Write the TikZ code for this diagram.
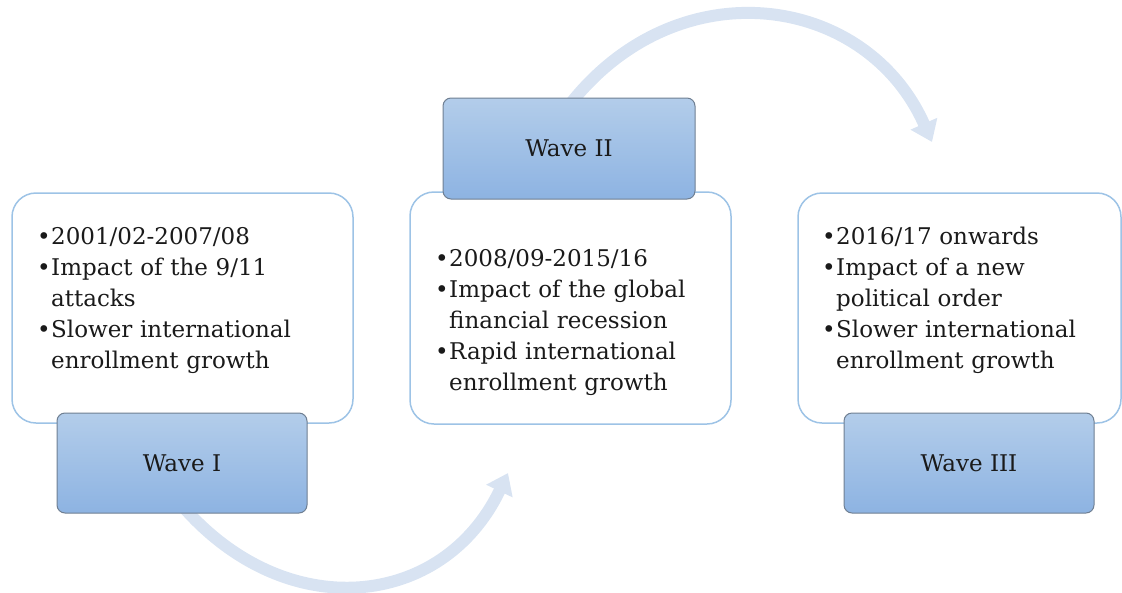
\documentclass[tikz,border=0pt]{standalone}
\usepackage{fontspec}
\setmainfont{DejaVu Serif}
\usetikzlibrary{arrows.meta}
\pgfdeclarelayer{background}
\pgfsetlayers{background,main}
\definecolor{arcc}{HTML}{D8E3F2}
\definecolor{boxline}{HTML}{9DC3E6}
\definecolor{wavetop}{HTML}{B3CDEA}
\definecolor{wavebot}{HTML}{8DB3E2}
\definecolor{waveline}{HTML}{6F7F92}
\definecolor{txt}{HTML}{1A1A1A}
\newcommand{\bul}{\makebox[11pt][l]{\hspace{-3pt}\textbullet}}
\newcommand{\hng}{\hspace*{11pt}}
\begin{document}
\begin{tikzpicture}[x=1pt,y=-1pt,
  infobox/.style={draw=boxline, line width=1.5pt, rounded corners=24pt, fill=white, inner sep=0pt},
  wavebox/.style={draw=waveline, line width=1pt, rounded corners=8pt, top color=wavetop, bottom color=wavebot, inner sep=0pt, font=\fontsize{23}{28}\selectfont, text=txt},
  bullets/.style={anchor=base west, align=left, text width=300pt, inner sep=0pt, font=\fontsize{23}{31}\selectfont, text=txt},
  flow/.style={draw=arcc, line width=12pt, -{Triangle[width=28pt,length=20pt]}}]
\useasboundingbox (0,0) rectangle (1122,592);
% content boxes
\node[infobox, minimum width=341pt, minimum height=230pt] (b1) at (182.5,308) {};
\node[infobox, minimum width=321pt, minimum height=232pt] (b2) at (570.5,308) {};
\node[infobox, minimum width=323pt, minimum height=230pt] (b3) at (959.5,308) {};
% texts
\node[bullets] (l1) at (40,244) {\bul 2001/02-2007/08\\\bul Impact of the 9/11\\\hng attacks\\\bul Slower international\\\hng enrollment growth};
\node[bullets] (l2) at (438,266) {\bul 2008/09-2015/16\\\bul Impact of the global\\\hng financial recession\\\bul Rapid international\\\hng enrollment growth};
\node[bullets] (l3) at (825,244) {\bul 2016/17 onwards\\\bul Impact of a new\\\hng political order\\\bul Slower international\\\hng enrollment growth};
% wave labels
\node[wavebox, minimum width=250pt, minimum height=100pt] (w1) at (182,463) {Wave I};
\node[wavebox, minimum width=252pt, minimum height=101pt] (w2) at (569,148.5) {Wave II};
\node[wavebox, minimum width=250pt, minimum height=100pt] (w3) at (969,463) {Wave III};
% arrows
\coordinate (t3) at (932,142);
\coordinate (t2) at (508,473);
\begin{pgfonlayer}{background}
\draw[flow] ([yshift=-8pt]w2.north) .. controls +(108,-139) and +(-66,-149) .. (t3);
\draw[flow] ([yshift=8pt]w1.south) .. controls +(104,120) and +(-65,136) .. (t2);
\end{pgfonlayer}
\end{tikzpicture}
\end{document}
